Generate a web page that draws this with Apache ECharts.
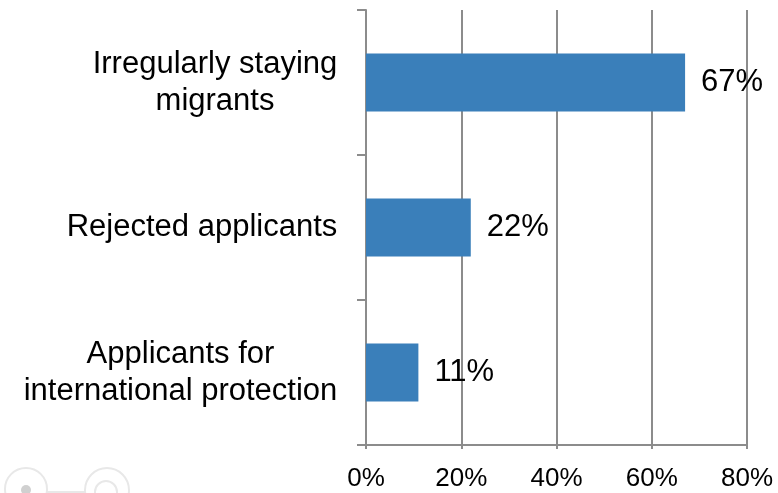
<!DOCTYPE html>
<html><head><meta charset="utf-8">
<script src="https://cdn.jsdelivr.net/npm/echarts@6/dist/echarts.min.js"></script>
<style>html,body{margin:0;padding:0;background:#fff}#c{width:778px;height:493px}</style>
</head><body><div id="c"></div>
<script>
const categories = ['Applicants for\ninternational protection', 'Rejected applicants', 'Irregularly staying\nmigrants'];
const values = [11, 22, 67];
const xTicks = [0, 20, 40, 60, 80];

const FONT = 'Liberation Sans, Arial, sans-serif';
const LABEL_SIZE = 31;
const ctx = document.createElement('canvas').getContext('2d');
ctx.font = LABEL_SIZE + 'px ' + FONT;
const rich = {};
categories.forEach((c, i) => {
  const w = Math.max(...c.split('\n').map(l => ctx.measureText(l).width));
  rich['r' + i] = { width: Math.ceil(w) + 1, align: 'center', fontSize: LABEL_SIZE, lineHeight: 37, fontFamily: FONT, color: '#000' };
});

const chart = echarts.init(document.getElementById('c'));
chart.setOption({
  animation: false,
  grid: { left: 366, right: 31, top: 10, bottom: 48, containLabel: false },
  graphic: [
    { type: 'circle', shape: { cx: 26, cy: 489, r: 21 }, style: { fill: 'none', stroke: '#e8e8e8', lineWidth: 2 }, silent: true },
    { type: 'circle', shape: { cx: 26, cy: 490, r: 5 }, style: { fill: '#d0d0d0' }, silent: true },
    { type: 'line', shape: { x1: 47, y1: 492, x2: 85, y2: 492 }, style: { stroke: '#e8e8e8', lineWidth: 2 }, silent: true },
    { type: 'circle', shape: { cx: 107, cy: 490, r: 22 }, style: { fill: 'none', stroke: '#e8e8e8', lineWidth: 2 }, silent: true },
    { type: 'circle', shape: { cx: 106, cy: 492, r: 11 }, style: { fill: 'none', stroke: '#e8e8e8', lineWidth: 2 }, silent: true }
  ],
  xAxis: {
    type: 'value', min: xTicks[0], max: xTicks[xTicks.length - 1], interval: 20,
    axisLine: { show: true, lineStyle: { color: '#8c8c8c', width: 2 } },
    axisTick: { show: true, length: 4, lineStyle: { color: '#8c8c8c', width: 2 } },
    splitLine: { show: true, lineStyle: { color: '#8c8c8c', width: 2 } },
    axisLabel: { formatter: '{value}%', color: '#000', fontSize: 26, fontFamily: FONT, margin: 21 }
  },
  yAxis: {
    type: 'category', data: categories,
    axisLine: { show: true, lineStyle: { color: '#8c8c8c', width: 2 } },
    axisTick: { show: true, length: 9, lineStyle: { color: '#8c8c8c', width: 2 } },
    axisLabel: {
      color: '#000', fontSize: LABEL_SIZE, fontFamily: FONT, margin: 28, align: 'right', lineHeight: 37,
      formatter: (v, i) => v.split('\n').map(l => '{r' + i + '|' + l + '}').join('\n'),
      rich: rich
    }
  },
  series: [{
    type: 'bar', data: values, barCategoryGap: '60%',
    itemStyle: { color: '#3a7fba' },
    label: { show: true, position: 'right', distance: 16, formatter: '{c}%', color: '#000', fontSize: 31, fontFamily: FONT }
  }]
});
</script></body></html>
